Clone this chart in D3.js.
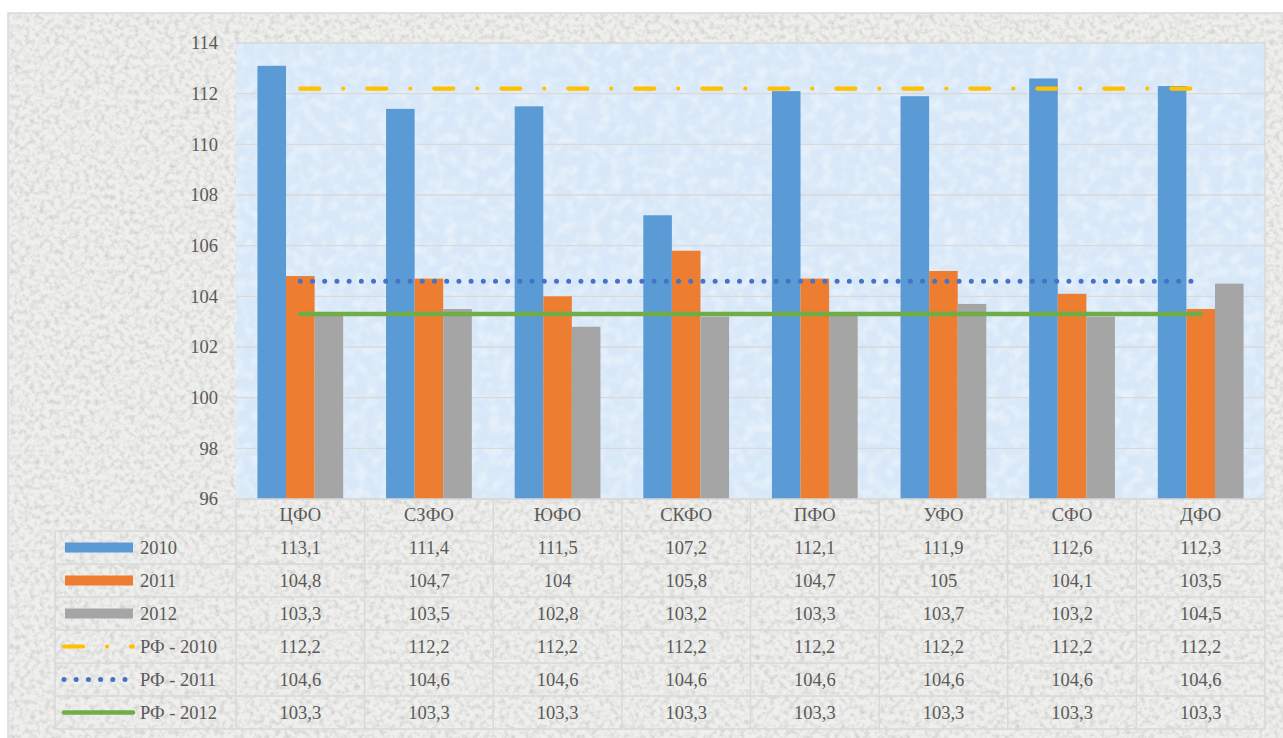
<!DOCTYPE html>
<html lang="ru">
<head>
<meta charset="utf-8">
<title>Индексы по федеральным округам</title>
<script src="https://cdnjs.cloudflare.com/ajax/libs/d3/7.8.5/d3.min.js"></script>
<style>
  body { margin: 0; background: #ffffff; }
</style>
</head>
<body>
<div id="chart"></div>
<script>

// data
var categories = ["ЦФО", "СЗФО", "ЮФО", "СКФО", "ПФО", "УФО", "СФО", "ДФО"];
var values2010 = [113.1, 111.4, 111.5, 107.2, 112.1, 111.9, 112.6, 112.3];
var values2011 = [104.8, 104.7, 104, 105.8, 104.7, 105, 104.1, 103.5];
var values2012 = [103.3, 103.5, 102.8, 103.2, 103.3, 103.7, 103.2, 104.5];
var rf2010 = [112.2, 112.2, 112.2, 112.2, 112.2, 112.2, 112.2, 112.2];
var rf2011 = [104.6, 104.6, 104.6, 104.6, 104.6, 104.6, 104.6, 104.6];
var rf2012 = [103.3, 103.3, 103.3, 103.3, 103.3, 103.3, 103.3, 103.3];
var yTicks = [96, 98, 100, 102, 104, 106, 108, 110, 112, 114];

var barSeries = [
  { name: "2010", values: values2010, color: "#5b9bd5" },
  { name: "2011", values: values2011, color: "#ed7d31" },
  { name: "2012", values: values2012, color: "#a5a5a5" }
];
var lineSeries = [
  { name: "РФ - 2010", values: rf2010, color: "#ffc000", dash: "19 24 0 24", width: 4.2 },
  { name: "РФ - 2011", values: rf2011, color: "#4472c4", dash: "0 12.2", width: 5 },
  { name: "РФ - 2012", values: rf2012, color: "#70ad47", dash: null, width: 4.6 }
];
var tableRows = barSeries.concat(lineSeries);

var W = 1283, H = 738;
var plot = { left: 236, right: 1265, top: 43, bottom: 499 };
var headerH = 32, rowH = 33, legendLeft = 55;
var FONT = "'Liberation Serif', 'Times New Roman', serif";
var FS = "18.5px";
var INK = "#595959";

var fmt = function (v) { return String(v).replace(".", ","); };

var svg = d3.select("#chart").append("svg")
  .attr("width", W)
  .attr("height", H)
  .style("font-family", FONT);

// textures
var defs = svg.append("defs");
var granite = defs.append("filter").attr("id", "granite")
  .attr("x", 0).attr("y", 0).attr("width", "100%").attr("height", "100%");
granite.append("feTurbulence")
  .attr("type", "fractalNoise").attr("baseFrequency", 0.2)
  .attr("numOctaves", 3).attr("seed", 7);
granite.append("feColorMatrix").attr("type", "matrix")
  .attr("values", "0 0 0 0 0.58  0 0 0 0 0.58  0 0 0 0 0.56  1.7 0 0 0 -0.7");

var frost = defs.append("filter").attr("id", "frost")
  .attr("x", 0).attr("y", 0).attr("width", "100%").attr("height", "100%");
frost.append("feTurbulence")
  .attr("type", "fractalNoise").attr("baseFrequency", 0.09)
  .attr("numOctaves", 2).attr("seed", 2);
frost.append("feColorMatrix").attr("type", "matrix")
  .attr("values", "0 0 0 0 0.96  0 0 0 0 0.98  0 0 0 0 1  1.1 0 0 0 -0.45");

// chart area
svg.append("rect")
  .attr("x", 8).attr("y", 13)
  .attr("width", W).attr("height", H)
  .attr("fill", "#efefed")
  .attr("stroke", "#d9d9d9").attr("stroke-width", 1.5);
svg.append("rect")
  .attr("x", 9).attr("y", 14)
  .attr("width", W - 9).attr("height", H - 14)
  .attr("filter", "url(#granite)");

// plot area
svg.append("rect")
  .attr("x", plot.left).attr("y", plot.top)
  .attr("width", plot.right - plot.left).attr("height", plot.bottom - plot.top)
  .attr("fill", "#d8e8f8");
svg.append("rect")
  .attr("x", plot.left).attr("y", plot.top)
  .attr("width", plot.right - plot.left).attr("height", plot.bottom - plot.top)
  .attr("filter", "url(#frost)");

var x = d3.scaleBand()
  .domain(categories)
  .range([plot.left, plot.right])
  .padding(0);

var y = d3.scaleLinear()
  .domain([96, 114])
  .range([plot.bottom, plot.top]);

var barW = x.bandwidth() / 4.5;

// gridlines
svg.append("g")
  .selectAll("line")
  .data(yTicks)
  .enter().append("line")
  .attr("x1", plot.left).attr("x2", plot.right)
  .attr("y1", function (d) { return y(d); })
  .attr("y2", function (d) { return y(d); })
  .attr("stroke", "#d9d9d9")
  .attr("stroke-width", 1.3);

svg.append("line")
  .attr("x1", plot.right).attr("x2", plot.right)
  .attr("y1", plot.top).attr("y2", plot.bottom)
  .attr("stroke", "#d9d9d9").attr("stroke-width", 1.3);

// y axis labels
var yAxis = svg.append("g")
  .attr("transform", "translate(" + (plot.left - 18) + ",0)")
  .call(d3.axisLeft(y).tickValues(yTicks).tickSize(0).tickPadding(0));
yAxis.select(".domain").remove();
yAxis.attr("font-family", null).attr("font-size", null);
yAxis.selectAll("text")
  .style("font-family", FONT)
  .style("font-size", FS)
  .attr("fill", INK);

// bars
barSeries.forEach(function (s, si) {
  svg.append("g")
    .selectAll("rect")
    .data(s.values)
    .enter().append("rect")
    .attr("x", function (d, i) {
      return x(categories[i]) + x.bandwidth() / 2 - 1.5 * barW + si * barW;
    })
    .attr("y", function (d) { return y(d); })
    .attr("width", barW)
    .attr("height", function (d) { return y(96) - y(d); })
    .attr("fill", s.color);
});

// lines
var line = d3.line()
  .x(function (d, i) { return x(categories[i]) + x.bandwidth() / 2; })
  .y(function (d) { return y(d); });

lineSeries.forEach(function (s) {
  svg.append("path")
    .datum(s.values)
    .attr("d", line)
    .attr("fill", "none")
    .attr("stroke", s.color)
    .attr("stroke-width", s.width)
    .attr("stroke-linecap", "round")
    .attr("stroke-dasharray", s.dash);
});

// data table
var tableTop = plot.bottom;
var rowsTop = tableTop + headerH;
var tableBottom = rowsTop + rowH * tableRows.length;
var grid = svg.append("g")
  .attr("stroke", "#d9d9d9")
  .attr("stroke-width", 1.5);

grid.append("line")
  .attr("x1", plot.left).attr("x2", plot.right)
  .attr("y1", tableTop).attr("y2", tableTop);
grid.selectAll(".hrow")
  .data(d3.range(tableRows.length + 1))
  .enter().append("line")
  .attr("class", "hrow")
  .attr("x1", legendLeft).attr("x2", plot.right)
  .attr("y1", function (d) { return rowsTop + d * rowH; })
  .attr("y2", function (d) { return rowsTop + d * rowH; });

grid.selectAll(".vcol")
  .data(categories.concat(["end"]))
  .enter().append("line")
  .attr("class", "vcol")
  .attr("x1", function (d, i) { return plot.left + i * x.bandwidth(); })
  .attr("x2", function (d, i) { return plot.left + i * x.bandwidth(); })
  .attr("y1", tableTop).attr("y2", tableBottom);
grid.append("line")
  .attr("x1", legendLeft).attr("x2", legendLeft)
  .attr("y1", rowsTop).attr("y2", tableBottom);

// category labels
svg.append("g")
  .selectAll("text")
  .data(categories)
  .enter().append("text")
  .attr("x", function (d) { return x(d) + x.bandwidth() / 2; })
  .attr("y", tableTop + headerH / 2)
  .attr("dy", "0.35em")
  .attr("text-anchor", "middle")
  .attr("fill", INK)
  .style("font-family", FONT)
  .style("font-size", FS)
  .text(function (d) { return d; });

// rows
tableRows.forEach(function (s, ri) {
  var cy = rowsTop + ri * rowH + rowH / 2;
  var g = svg.append("g");

  if (s.dash === undefined) {
    g.append("rect")
      .attr("x", 65).attr("y", cy - 5)
      .attr("width", 68).attr("height", 10)
      .attr("fill", s.color);
  } else {
    g.append("line")
      .attr("x1", 64).attr("x2", 133)
      .attr("y1", cy).attr("y2", cy)
      .attr("stroke", s.color)
      .attr("stroke-width", s.width)
      .attr("stroke-linecap", "round")
      .attr("stroke-dasharray", s.dash);
  }

  g.append("text")
    .attr("x", 140)
    .attr("y", cy)
    .attr("dy", "0.35em")
    .attr("fill", INK)
    .style("font-family", FONT)
    .style("font-size", FS)
    .text(s.name);

  g.selectAll(".val")
    .data(s.values)
    .enter().append("text")
    .attr("class", "val")
    .attr("x", function (d, i) { return x(categories[i]) + x.bandwidth() / 2; })
    .attr("y", cy)
    .attr("dy", "0.35em")
    .attr("text-anchor", "middle")
    .attr("fill", INK)
    .style("font-family", FONT)
    .style("font-size", FS)
    .text(function (d) { return fmt(d); });
});
</script>
</body>
</html>
